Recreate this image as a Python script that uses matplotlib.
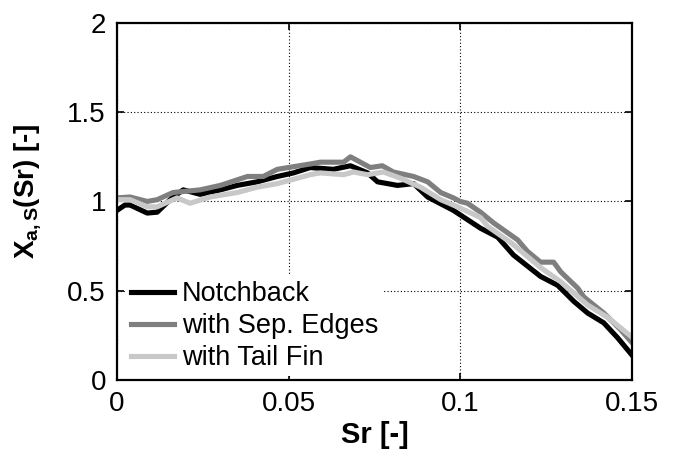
import numpy as np
import matplotlib
matplotlib.use('Agg')
import matplotlib.pyplot as plt

plt.rcParams['font.family'] = ['Liberation Sans', 'DejaVu Sans']
plt.rcParams['mathtext.fontset'] = 'custom'
plt.rcParams['mathtext.rm'] = 'Liberation Sans'
plt.rcParams['mathtext.bf'] = 'Liberation Sans:bold'
plt.rcParams['mathtext.it'] = 'Liberation Sans:italic'

# Notchback
sr_notch = [0, 0.0023, 0.0038, 0.0088, 0.0117, 0.0163, 0.0193, 0.0242, 0.0301,
            0.035, 0.0408, 0.0467, 0.0514, 0.0563, 0.063, 0.068, 0.073, 0.0759,
            0.0817, 0.0864, 0.0905, 0.098, 0.1059, 0.1109, 0.1155, 0.1234,
            0.1284, 0.1331, 0.1371, 0.1418, 0.1459, 0.15]
x_notch = [0.95, 0.98, 0.98, 0.935, 0.94, 1.025, 1.065, 1.04, 1.065,
           1.09, 1.11, 1.14, 1.16, 1.19, 1.18, 1.20, 1.16, 1.11,
           1.09, 1.10, 1.025, 0.95, 0.85, 0.80, 0.70, 0.58,
           0.53, 0.44, 0.375, 0.32, 0.235, 0.14]

# with Sep. Edges
sr_sep = [0, 0.0038, 0.0088, 0.0117, 0.0163, 0.0242, 0.0301, 0.038, 0.0426,
          0.0467, 0.0563, 0.0592, 0.066, 0.068, 0.0709, 0.0738, 0.0773, 0.0805,
          0.0864, 0.0905, 0.0943, 0.098, 0.1, 0.1021, 0.1059, 0.1097, 0.1167,
          0.1196, 0.1234, 0.1272, 0.1293, 0.1342, 0.136, 0.1418, 0.1468, 0.15]
x_sep = [1.02, 1.025, 1.00, 1.01, 1.05, 1.065, 1.09, 1.14, 1.14,
         1.18, 1.21, 1.22, 1.22, 1.25, 1.22, 1.19, 1.20, 1.165,
         1.14, 1.11, 1.05, 1.02, 1.00, 0.99, 0.94, 0.88, 0.785,
         0.72, 0.66, 0.66, 0.605, 0.515, 0.465, 0.375, 0.28, 0.21]

# with Tail Fin
sr_fin = [0, 0.0038, 0.0088, 0.0117, 0.0175, 0.0213, 0.0271, 0.035, 0.0408,
          0.0467, 0.0563, 0.0592, 0.066, 0.0689, 0.073, 0.0776, 0.0826, 0.0884,
          0.0943, 0.0992, 0.1059, 0.108, 0.1147, 0.1234, 0.1293, 0.1371,
          0.143, 0.15]
x_fin = [1.01, 1.01, 0.97, 0.97, 1.02, 0.99, 1.025, 1.05, 1.08,
         1.10, 1.15, 1.16, 1.15, 1.165, 1.15, 1.165, 1.13, 1.08,
         1.01, 0.97, 0.91, 0.86, 0.77, 0.63, 0.55, 0.42,
         0.35, 0.24]

fig = plt.figure(figsize=(6.78, 4.5), dpi=100)
ax = fig.add_axes([0.1726, 0.1556, 0.7594, 0.7934])

lw = 3.7
ax.plot(sr_notch, x_notch, color='black', linewidth=lw, label='Notchback')
ax.plot(sr_sep, x_sep, color='#7f7f7f', linewidth=lw, label='with Sep. Edges')
ax.plot(sr_fin, x_fin, color='#c8c8c8', linewidth=lw, label='with Tail Fin')

ax.set_xlim(0, 0.15)
ax.set_ylim(0, 2)
ax.set_xticks([0, 0.05, 0.1, 0.15])
ax.set_xticklabels(['0', '0.05', '0.1', '0.15'])
ax.set_yticks([0, 0.5, 1, 1.5, 2])
ax.set_yticklabels(['0', '0.5', '1', '1.5', '2'])

ax.grid(True, color='black', linestyle=(0, (1, 2)), linewidth=0.8)
ax.tick_params(direction='in', top=True, right=True, length=5, width=1.2,
               labelsize=20, pad=8)
for s in ax.spines.values():
    s.set_linewidth(1.6)

ax.set_xlabel('Sr [-]', fontsize=21, fontweight='bold', labelpad=3)
ax.set_ylabel(r'$\mathbf{X_{a,S}}$(Sr) [-]', fontsize=20, fontweight='bold')
ax.yaxis.set_label_coords(-0.143, 0.53)

leg = ax.legend(loc='lower left', bbox_to_anchor=(0.016, 0.01), fontsize=19.5,
                frameon=True, fancybox=False, framealpha=1, edgecolor='white',
                handlelength=1.6, handletextpad=0.3, labelspacing=0.22,
                borderpad=0.2, borderaxespad=0)
leg.get_frame().set_linewidth(0)

plt.savefig('out.png', dpi=100, facecolor='white')
